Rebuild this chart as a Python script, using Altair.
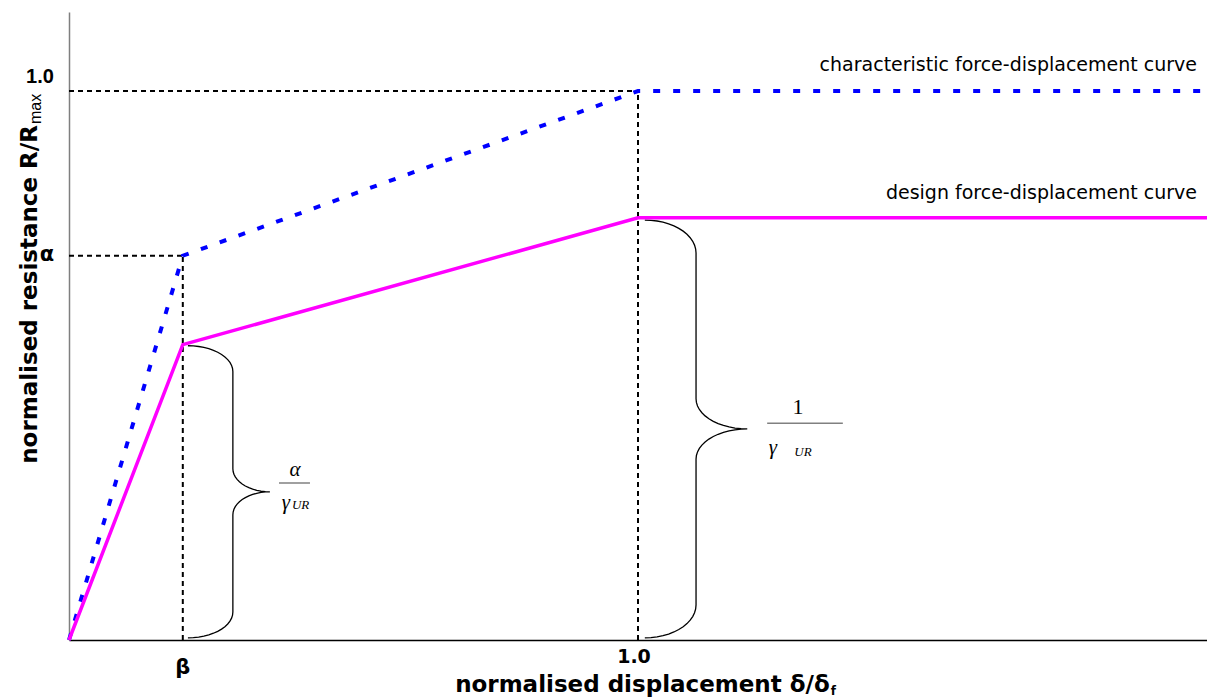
import altair as alt
import pandas as pd
import numpy as np

# ---- data ----
disp = [0.0, 0.2, 1.0, 2.0]             # normalised displacement
char_res = [0.0, 0.7, 1.0, 1.0]         # characteristic curve R/Rmax
design_res = [0.0, 0.538, 0.769, 0.769] # design curve R/Rmax

x_tick_vals = [0.2, 1.0]
x_tick_text = ["β", "1.0"]
y_tick_vals = [1.0, 0.7]
y_tick_text = ["1.0", "α"]

X_DOMAIN = [0.0, 2.0]
Y_DOMAIN = [0.0, 1.144]

xs = alt.Scale(domain=X_DOMAIN, nice=False, zero=False)
ys = alt.Scale(domain=Y_DOMAIN, nice=False, zero=False)


def X(f="x"):
    return alt.X(f"{f}:Q", scale=xs, title=None)


def Y(f="y"):
    return alt.Y(f"{f}:Q", scale=ys, title=None)


# ---- curves ----
char_df = pd.DataFrame({"x": disp, "y": char_res, "o": list(range(len(disp)))})
design_df = pd.DataFrame({"x": disp, "y": design_res, "o": list(range(len(disp)))})

char_line = alt.Chart(char_df).mark_line(
    color="#0000FF", strokeWidth=4, strokeDash=[7, 13], strokeCap="butt"
).encode(x=X(), y=Y(), order="o:Q")

design_line = alt.Chart(design_df).mark_line(
    color="#FF00FF", strokeWidth=3.5
).encode(x=X(), y=Y(), order="o:Q")

# ---- dotted guide lines ----
guides_df = pd.DataFrame({
    "x": [0.0, disp[2], 0.0, disp[1]],
    "x2": [disp[2], disp[2], disp[1], disp[1]],
    "y": [char_res[2], 0.0, char_res[1], 0.0],
    "y2": [char_res[2], char_res[2], char_res[1], char_res[1]],
})
guides = alt.Chart(guides_df).mark_rule(
    color="black", strokeWidth=2, strokeDash=[5, 4]
).encode(x=X(), x2="x2:Q", y=Y(), y2="y2:Q")


# ---- curly braces (shape geometry in data units) ----
def brace(bid, x0, xv, xt, ytop, ybot, ry, ry2, n=14):
    ymid = (ytop + ybot) / 2.0
    pts = []
    t = np.linspace(0, np.pi / 2, n)
    for a in t:
        pts.append((x0 + (xv - x0) * np.sin(a), ytop - ry + ry * np.cos(a)))
    for a in t:
        pts.append((xt - (xt - xv) * np.cos(a), ymid + ry2 - ry2 * np.sin(a)))
    for a in t[::-1]:
        pts.append((xt - (xt - xv) * np.cos(a), ymid - ry2 + ry2 * np.sin(a)))
    for a in t[::-1]:
        pts.append((x0 + (xv - x0) * np.sin(a), ybot + ry - ry * np.cos(a)))
    return [{"b": bid, "o": i, "x": p[0], "y": p[1]} for i, p in enumerate(pts)]


brace_rows = brace("small", 0.209, 0.288, 0.353, 0.536, 0.004, 0.047, 0.042) + \
    brace("large", 1.012, 1.102, 1.192, 0.765, 0.004, 0.060, 0.055)
braces = alt.Chart(pd.DataFrame(brace_rows)).mark_line(
    color="black", strokeWidth=1.3, interpolate="linear"
).encode(x=X(), y=Y(), detail="b:N", order="o:Q")

# ---- fraction bars ----
bars_df = pd.DataFrame({
    "x": [0.369, 1.227], "x2": [0.4235, 1.360], "y": [0.286, 0.395], "y2": [0.286, 0.395]
})
bars = alt.Chart(bars_df).mark_rule(color="#808080", strokeWidth=1.5).encode(
    x=X(), x2="x2:Q", y=Y(), y2="y2:Q"
)


def text_layer(rows, **kw):
    df = pd.DataFrame(rows)
    return alt.Chart(df).mark_text(baseline="middle", **kw).encode(
        x=X(), y=Y(), text="t:N"
    )


serif_it = text_layer(
    [{"x": 0.397, "y": 0.310, "t": "α"},
     {"x": 0.381, "y": 0.2495, "t": "γ"},
     {"x": 1.237, "y": 0.3497, "t": "γ"}],
    font="Liberation Serif", fontStyle="italic", fontSize=21, color="black"
)
serif_sub = text_layer(
    [{"x": 0.407, "y": 0.246, "t": "UR"},
     {"x": 1.290, "y": 0.3424, "t": "UR"}],
    font="Liberation Serif", fontStyle="italic", fontSize=13, color="black"
)
serif_one = text_layer(
    [{"x": 1.281, "y": 0.4244, "t": "1"}],
    font="Liberation Serif", fontSize=22, color="black"
)

# ---- tick labels ----
ytick1 = text_layer([{"x": 0.0, "y": y_tick_vals[0], "t": y_tick_text[0]}],
                    font="Liberation Sans", fontWeight="bold", fontSize=20,
                    dx=-29, dy=-14, align="center")
ytick2 = text_layer([{"x": 0.0, "y": y_tick_vals[1], "t": y_tick_text[1]}],
                    font="DejaVu Sans", fontWeight="bold", fontSize=21,
                    dx=-22, dy=-1, align="center")
xtick1 = text_layer([{"x": x_tick_vals[0], "y": 0.0, "t": x_tick_text[0]}],
                    font="DejaVu Sans", fontWeight="bold", fontSize=21,
                    dx=0, dy=28, align="center")
xtick2 = text_layer([{"x": x_tick_vals[1], "y": 0.0, "t": x_tick_text[1]}],
                    font="DejaVu Sans", fontWeight="bold", fontSize=19,
                    dx=-4, dy=17, align="center")

# ---- axis titles ----
xtitle = text_layer([{"x": 1.337, "y": 0.0, "t": "normalised displacement δ/δ"}],
                    font="DejaVu Sans", fontWeight="bold", fontSize=23,
                    dy=45, align="right")
xtitle_sub = text_layer([{"x": 1.337, "y": 0.0, "t": "f"}],
                        font="DejaVu Sans", fontWeight="bold", fontSize=12,
                        dy=51, dx=1, align="left")
# rotated text: dx runs along the text, dy across it (negative = screen left)
ytitle = text_layer([{"x": 0.0, "y": 0.938, "t": "normalised resistance R/R"}],
                    font="DejaVu Sans", fontWeight="bold", fontSize=23,
                    dy=-39, angle=270, align="right")
ytitle_sub = text_layer([{"x": 0.0, "y": 0.938, "t": "max"}],
                        font="Liberation Sans", fontSize=16,
                        dy=-33, dx=1, angle=270, align="left")

# ---- curve labels ----
lab_char = text_layer([{"x": 2.0, "y": char_res[-1], "t": "characteristic force-displacement curve"}],
                      font="DejaVu Sans", fontSize=19, dx=-10, dy=-26, align="right")
lab_design = text_layer([{"x": 2.0, "y": design_res[-1], "t": "design force-displacement curve"}],
                        font="DejaVu Sans", fontSize=19, dx=-10, dy=-25, align="right")

chart = alt.layer(
    guides, braces, bars, char_line, design_line,
    serif_it, serif_sub, serif_one,
    ytick1, ytick2, xtick1, xtick2,
    xtitle, xtitle_sub, ytitle, ytitle_sub,
    lab_char, lab_design,
).properties(
    width=1138, height=628,
    padding={"left": 69, "top": 12, "right": 0, "bottom": 57},
    autosize=alt.AutoSizeParams(type="none"),
    background="white",
).configure_view(stroke=None).configure_axis(
    labels=False, ticks=False, grid=False, domainWidth=1.5
).configure_axisX(domainColor="black").configure_axisY(domainColor="#7f7f7f")

chart.save("out.html", embed_options={"renderer": "svg", "actions": False})
